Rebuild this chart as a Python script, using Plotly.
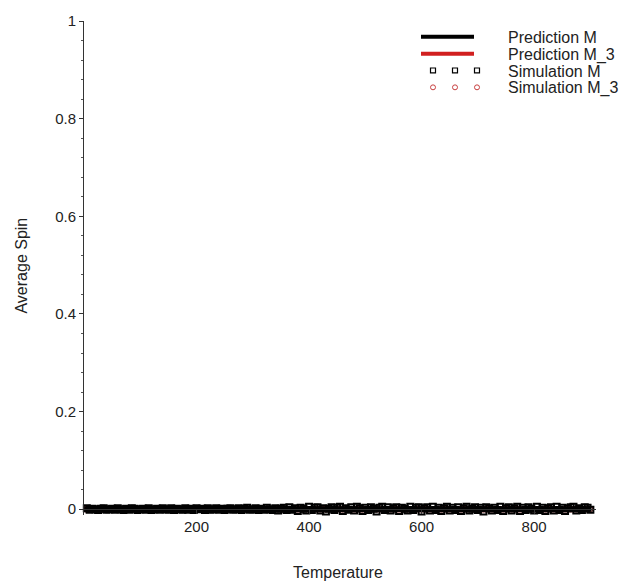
import plotly.graph_objects as go

# ---------------- data ----------------
temperature = [5, 10, 15, 20, 25, 30, 35, 40, 45, 50,
               55, 60, 65, 70, 75, 80, 85, 90, 95, 100,
               105, 110, 115, 120, 125, 130, 135, 140, 145, 150,
               155, 160, 165, 170, 175, 180, 185, 190, 195, 200,
               205, 210, 215, 220, 225, 230, 235, 240, 245, 250,
               255, 260, 265, 270, 275, 280, 285, 290, 295, 300,
               305, 310, 315, 320, 325, 330, 335, 340, 345, 350,
               355, 360, 365, 370, 375, 380, 385, 390, 395, 400,
               405, 410, 415, 420, 425, 430, 435, 440, 445, 450,
               455, 460, 465, 470, 475, 480, 485, 490, 495, 500,
               505, 510, 515, 520, 525, 530, 535, 540, 545, 550,
               555, 560, 565, 570, 575, 580, 585, 590, 595, 600,
               605, 610, 615, 620, 625, 630, 635, 640, 645, 650,
               655, 660, 665, 670, 675, 680, 685, 690, 695, 700,
               705, 710, 715, 720, 725, 730, 735, 740, 745, 750,
               755, 760, 765, 770, 775, 780, 785, 790, 795, 800,
               805, 810, 815, 820, 825, 830, 835, 840, 845, 850,
               855, 860, 865, 870, 875, 880, 885, 890, 895, 900]

sim_M = [0.002, -0.001, 0.001, 0.000, -0.002, 0.001, 0.002, -0.001, 0.000, 0.001,
         -0.001, 0.002, 0.000, -0.002, 0.001, -0.001, 0.002, 0.001, -0.002, 0.000,
         0.001, -0.001, 0.002, -0.002, 0.000, 0.001, -0.001, 0.002, 0.000, -0.001,
         0.002, -0.002, 0.001, 0.000, -0.001, 0.002, -0.001, 0.001, -0.002, 0.002,
         0.000, 0.001, -0.002, 0.002, -0.001, 0.000, 0.002, -0.001, 0.001, -0.002,
         0.001, 0.002, -0.001, 0.000, 0.002, -0.002, 0.001, 0.003, -0.001, 0.000,
         0.002, -0.002, 0.001, -0.001, 0.003, 0.000, -0.002, 0.002, -0.003, 0.001,
         0.003, -0.002, 0.004, -0.001, 0.002, -0.004, 0.003, 0.001, -0.003, 0.005,
         -0.002, 0.003, 0.004, -0.003, 0.002, -0.005, 0.001, 0.004, -0.002, 0.003,
         0.005, -0.004, 0.002, -0.001, 0.004, -0.003, 0.005, 0.002, -0.004, 0.003,
         -0.002, 0.004, 0.001, -0.005, 0.003, 0.005, -0.002, 0.004, -0.003, 0.002,
         0.004, -0.004, 0.003, 0.001, -0.003, 0.005, -0.002, 0.003, 0.004, -0.005,
         0.002, 0.004, -0.003, 0.005, -0.002, 0.003, -0.004, 0.002, 0.005, -0.003,
         0.003, -0.002, 0.004, -0.004, 0.002, 0.005, -0.003, 0.001, 0.004, -0.002,
         0.003, -0.005, 0.004, 0.002, -0.003, 0.003, -0.002, 0.005, -0.004, 0.002,
         0.004, -0.003, 0.002, 0.005, -0.004, 0.003, -0.002, 0.004, 0.001, -0.003,
         0.005, -0.002, 0.003, -0.004, 0.002, 0.004, -0.003, 0.005, -0.002, 0.003,
         -0.004, 0.002, 0.004, 0.005, -0.003, 0.002, -0.002, 0.004, 0.003, -0.001]

sim_M3 = [0.0, 0.0, 0.0, 0.0, 0.0, 0.0, 0.0, 0.0, 0.0, 0.0,
          0.0, 0.0, 0.0, 0.0, 0.0, 0.0, 0.0, 0.0, 0.0, 0.0,
          0.0, 0.0, 0.0, 0.0, 0.0, 0.0, 0.0, 0.0, 0.0, 0.0,
          0.0, 0.0, 0.0, 0.0, 0.0, 0.0, 0.0, 0.0, 0.0, 0.0,
          0.0, 0.0, 0.0, 0.0, 0.0, 0.0, 0.0, 0.0, 0.0, 0.0,
          0.0, 0.0, 0.0, 0.0, 0.0, 0.0, 0.0, 0.0, 0.0, 0.0,
          0.0, 0.0, 0.0, 0.0, 0.0, 0.0, 0.0, 0.0, 0.0, 0.0,
          0.0, 0.0, 0.0, 0.0, 0.0, 0.0, 0.0, 0.0, 0.0, 0.0,
          0.0, 0.0, 0.0, 0.0, 0.0, 0.0, 0.0, 0.0, 0.0, 0.0,
          0.0, 0.0, 0.0, 0.0, 0.0, 0.0, 0.0, 0.0, 0.0, 0.0,
          0.0, 0.0, 0.0, 0.0, 0.0, 0.0, 0.0, 0.0, 0.0, 0.0,
          0.0, 0.0, 0.0, 0.0, 0.0, 0.0, 0.0, 0.0, 0.0, 0.0,
          0.0, 0.0, 0.0, 0.0, 0.0, 0.0, 0.0, 0.0, 0.0, 0.0,
          0.0, 0.0, 0.0, 0.0, 0.0, 0.0, 0.0, 0.0, 0.0, 0.0,
          0.0, 0.0, 0.0, 0.0, 0.0, 0.0, 0.0, 0.0, 0.0, 0.0,
          0.0, 0.0, 0.0, 0.0, 0.0, 0.0, 0.0, 0.0, 0.0, 0.0,
          0.0, 0.0, 0.0, 0.0, 0.0, 0.0, 0.0, 0.0, 0.0, 0.0,
          0.0, 0.0, 0.0, 0.0, 0.0, 0.0, 0.0, 0.0, 0.0, 0.0]

pred_T = [1, 900]
pred_M = [0.0, 0.0]
pred_M3 = [0.0, 0.0]

x_ticks = [200, 400, 600, 800]
y_ticks = [0, 0.2, 0.4, 0.6, 0.8, 1]
y_tick_text = ["0", "0.2", "0.4", "0.6", "0.8", "1"]
legend_names = ["Prediction M", "Prediction M_3", "Simulation M", "Simulation M_3"]

# ---------------- layout geometry ----------------
W, H = 636, 587
L, R, T, B = 84, 40, 16, 72
pw, ph = W - L - R, H - T - B

def px(x):
    return (x - L) / pw

def py(y):
    return (H - B - y) / ph

BLACK = "#000000"
RED = "#d11f1f"
CRED = "#c84040"
FONT = "Liberation Sans, Arial, sans-serif"
TXT = "#222222"

fig = go.Figure()
fig.add_trace(go.Scatter(x=pred_T, y=pred_M3, mode="lines",
                         line=dict(color=RED, width=6), name=legend_names[1]))
fig.add_trace(go.Scatter(x=temperature, y=sim_M3, mode="markers",
                         marker=dict(symbol="circle-open", size=5, color=CRED, line=dict(width=1)),
                         name=legend_names[3], cliponaxis=False))
fig.add_trace(go.Scatter(x=pred_T, y=pred_M, mode="lines",
                         line=dict(color=BLACK, width=6), name=legend_names[0]))
fig.add_trace(go.Scatter(x=temperature, y=sim_M, mode="markers",
                         marker=dict(symbol="square-open", size=6, color=BLACK, line=dict(width=2)),
                         name=legend_names[2], cliponaxis=False))

fig.update_layout(
    width=W, height=H,
    margin=dict(l=L, r=R, t=T, b=B),
    paper_bgcolor="white", plot_bgcolor="white",
    showlegend=False,
    font=dict(family=FONT, size=15, color=TXT),
    xaxis=dict(range=[0, 910], tickvals=x_ticks, ticktext=[str(v) for v in x_ticks],
               showgrid=False, zeroline=False, showline=True, linecolor="#333", linewidth=1,
               ticks="outside", ticklen=4, tickcolor="#333",
               anchor="free", position=py(509),
               tickfont=dict(size=15, family=FONT, color=TXT)),
    yaxis=dict(range=[-0.012, 1.0005], tickvals=y_ticks, ticktext=y_tick_text,
               showgrid=False, zeroline=False, showline=True, linecolor="#333", linewidth=1,
               ticks="outside", ticklen=4, tickcolor="#333",
               minor=dict(dtick=0.04, ticks="outside", ticklen=2, tickcolor="#555"),
               tickfont=dict(size=15, family=FONT, color=TXT)),
)

annotations = [
    dict(text="Temperature", x=px(338), y=py(573), xref="paper", yref="paper",
         showarrow=False, font=dict(size=16, family=FONT, color=TXT), xanchor="center", yanchor="middle"),
    dict(text="Average Spin", x=px(22), y=py(263), xref="paper", yref="paper", textangle=-90,
         showarrow=False, font=dict(size=16, family=FONT, color=TXT), xanchor="center", yanchor="middle"),
]
rows = [33, 50, 67, 84]
for name, ry in zip(legend_names, rows):
    annotations.append(dict(text=name, x=px(506), y=py(ry), xref="paper", yref="paper",
                            showarrow=False, font=dict(size=16, family=FONT, color=TXT),
                            xanchor="left", yanchor="middle"))

shapes = [
    dict(type="line", xref="paper", yref="paper", x0=px(421), x1=px(474), y0=py(32), y1=py(32),
         line=dict(color=BLACK, width=4)),
    dict(type="line", xref="paper", yref="paper", x0=px(421), x1=px(474), y0=py(49), y1=py(49),
         line=dict(color=RED, width=4)),
]
for cx in [433, 455, 477]:
    shapes.append(dict(type="rect", xref="paper", yref="paper",
                       x0=px(cx - 2.5), x1=px(cx + 2.5), y0=py(66 - 2.5), y1=py(66 + 2.5),
                       line=dict(color=BLACK, width=1.2)))
    shapes.append(dict(type="circle", xref="paper", yref="paper",
                       x0=px(cx - 2.5), x1=px(cx + 2.5), y0=py(83 - 2.5), y1=py(83 + 2.5),
                       line=dict(color=CRED, width=1)))

fig.update_layout(annotations=annotations, shapes=shapes)
fig.write_html("out.html", config={"displayModeBar": False},
               post_script="document.body.style.margin='0';document.body.style.padding='0';"
                           "document.body.style.overflow='hidden';")
